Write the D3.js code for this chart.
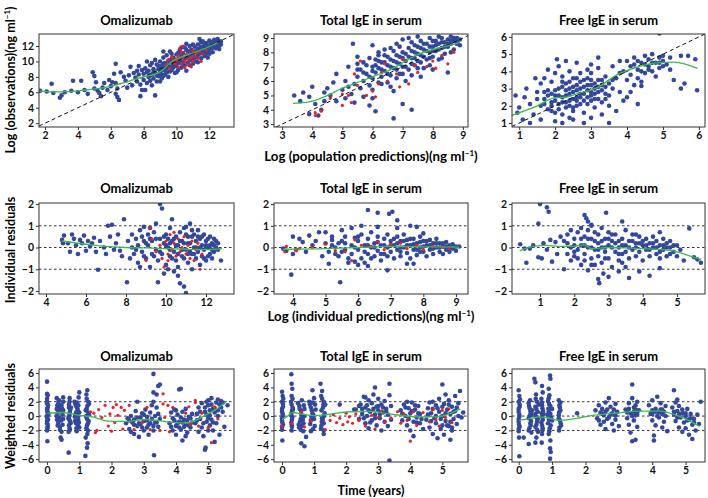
<!DOCTYPE html>
<meta charset="utf-8">
<body style="margin:0;background:#fff">
<script src="https://d3js.org/d3.v7.min.js"></script>
<script>
// ---- titles and ticks ----
const titles = ['Omalizumab', 'Total IgE in serum', 'Free IgE in serum'];
const omaPredTicks = [2, 4, 6, 8, 10, 12];
const totPredTicks = [3, 4, 5, 6, 7, 8, 9];
const freePredTicks = [1, 2, 3, 4, 5, 6];
const omaIpredTicks = [4, 6, 8, 10, 12];
const totIpredTicks = [4, 5, 6, 7, 8, 9];
const freeIpredTicks = [1, 2, 3, 4, 5];
const timeTicks = [0, 1, 2, 3, 4, 5];
const iresTicks = [-2, -1, 0, 1, 2];
const wresTicks = [-6, -4, -2, 0, 2, 4, 6];
const iresRefs = [-1, 0, 1];
const wresRefs = [-2, 0, 2];

// ---- row 1: observations vs population predictions ----
const omaPredBlue = [[1.7,6.2],[2.1,6.1],[2.4,7.1],[2.5,5.9],[2.9,5.3],[3.0,5.6],[3.2,6.0],[3.6,6.2],[3.7,7.5],[4.2,7.5],[4.0,6.0],[4.6,5.8],[4.9,8.6],[5.0,8.1],[5.0,6.5],[5.2,6.2],[5.4,5.5],[5.5,6.6],[5.6,7.2],[5.1,7.3],[5.8,6.3],[5.9,7.6],[6.0,6.8],[6.3,9.7],[6.2,8.4],[6.3,7.2],[6.4,6.5],[6.5,5.0],[6.4,5.4],[6.3,5.8],[6.6,8.6],[6.9,7.5],[7.0,6.6],[7.2,9.3],[7.5,7.9],[7.3,6.9],[7.8,5.5],[7.6,8.8],[7.9,6.3],[8.7,5.6],[6.1,7.3],[5.3,5.9],[4.4,6.3],[6.8,8.0],[7.1,8.2],
  [7.6,7.4],[7.7,8.3],[7.8,7.0],[7.9,8.9],[8.0,7.6],[8.0,8.4],[8.1,9.1],[8.2,7.2],[8.3,8.0],[8.3,8.8],[8.4,7.5],[8.4,9.5],[8.5,8.3],[8.5,6.9],[8.6,7.8],[8.6,9.0],[8.7,8.5],[8.7,10.2],[8.8,7.4],[8.8,9.6],
  [8.9,8.1],[8.9,9.0],[9.0,8.6],[9.0,10.0],[9.1,7.8],[9.1,9.4],[9.2,8.9],[9.2,10.5],[9.3,8.3],[9.3,9.8],[9.4,9.1],[9.4,10.8],[9.5,8.0],[9.5,9.5],[9.6,10.2],[9.6,8.7],[9.7,9.9],[9.7,11.0],[9.8,9.2],[9.8,10.5],[9.9,8.5],[9.9,9.8],
  [10.0,10.9],[10.0,9.4],[10.1,10.3],[10.1,8.9],[10.2,11.5],[10.2,9.8],[10.3,10.6],[10.3,9.2],[10.4,11.1],[10.4,10.0],[10.5,11.8],[10.5,9.5],[10.6,10.5],[10.6,8.8],[10.7,11.3],[10.7,9.9],[10.8,10.8],[10.8,12.0],[10.9,10.2],[10.9,11.5],[11.0,9.7],[11.0,11.0],
  [11.1,10.5],[11.1,11.9],[11.2,11.3],[11.2,10.0],[11.3,12.2],[11.3,10.8],[11.4,11.6],[11.5,10.4],[11.5,12.5],[11.6,11.1],[11.7,11.9],[11.7,10.7],[11.8,12.4],[11.8,11.4],[11.9,12.0],[12.0,11.0],[12.0,12.7],[12.1,11.7],[12.2,12.3],[12.2,11.2],[12.3,12.8],[12.3,11.8],[12.4,12.4],[12.5,12.0],[12.5,12.9],[12.6,11.6],[12.6,12.5],[12.7,12.2],[11.9,10.5],[11.4,12.9],[10.6,12.3],
  [8.2,10.0],[7.4,8.5],[7.7,9.4],[9.2,11.3],[9.0,7.4],[8.1,6.3],
  [8.2,8.6],[8.4,8.2],[8.6,8.6],[8.8,8.2],[8.9,9.4],[9.0,9.2],[9.1,8.3],[9.2,9.7],[9.3,9.2],[9.4,8.6],[9.5,10.1],[9.6,9.3],[9.7,8.9],[9.8,9.6],[9.9,10.2],[10.0,9.9],[10.1,11.1],[10.2,10.1],[10.3,10.9],[10.4,9.6],[10.5,10.4],[10.6,11.5],[10.7,10.6],[10.8,9.5],[10.9,11.1],[11.0,10.4],[11.1,11.3],[11.2,10.6],[11.3,11.6],[11.4,11.0],[11.5,11.9],[11.6,11.5],[11.7,12.3],[11.8,11.0],[11.9,11.7],[12.0,12.1],[12.1,12.5],[12.2,11.8],[12.3,12.3],[12.4,11.7],[12.5,12.5],[12.6,12.0],[12.7,12.6],[11.0,12.2],[10.3,11.8],[9.6,11.3],[8.5,9.8],[9.2,8.1],[10.0,8.6],[11.3,9.9],[12.0,11.5],[11.6,12.6]];
const omaPredRed = [[9.4,9.6],[9.6,9.1],[9.8,10.3],[9.9,9.7],[10.0,10.1],[10.1,9.3],[10.1,10.8],[10.2,10.4],[10.3,9.7],[10.3,11.2],[10.4,10.5],[10.5,10.0],[10.5,9.2],[10.6,10.9],[10.7,10.3],[10.7,9.6],[10.8,11.0],[10.9,10.5],[11.0,10.0],[11.0,11.4],[11.1,10.7],[11.2,11.1],[11.3,10.4],[11.4,11.3],[11.6,10.9],[11.8,11.5],[9.7,10.6],[10.2,11.7],[10.4,12.0],[9.5,10.2],[11.5,10.0],[10.9,9.3]];
const omaPredSmooth = [[1.63,6.15],[2.5,6.05],[3.5,6.1],[4.5,6.3],[5.3,6.5],[6.4,7.0],[7.8,7.9],[9.0,8.65],[9.8,10.1],[10.6,10.8],[11.4,11.4],[12.5,12.4]];

const totPredBlue = [[3.4,5.0],[3.7,5.2],[3.9,4.9],[3.9,3.7],[4.1,4.4],[4.2,3.6],[4.3,4.0],[4.4,4.6],[4.5,5.5],[4.6,5.0],[4.7,5.9],[4.8,4.6],[5.0,5.4],[5.1,4.8],[5.35,8.6],[5.2,7.0],[5.5,7.7],[5.7,4.9],[6.0,4.8],[6.1,3.9],[6.0,8.5],[6.2,8.0],[6.7,5.3],[6.7,3.4],[7.0,4.4],[7.3,4.0],[8.5,6.6],[4.4,5.2],[3.6,4.6],[4.0,5.6],[4.8,6.5],[5.1,6.0],[5.4,4.5],[5.9,4.3],[5.3,5.1],
  [5.4,5.8],[5.5,6.3],[5.6,6.8],[5.6,5.5],[5.7,6.0],[5.8,7.1],[5.8,6.5],[5.9,5.7],[6.0,6.2],[6.0,7.0],[6.1,6.6],[6.1,7.5],[6.2,5.9],[6.2,6.9],[6.3,7.3],[6.3,6.3],[6.4,7.8],[6.4,6.7],[6.5,7.1],[6.5,5.9],[6.6,7.5],[6.6,6.4],[6.7,8.1],[6.7,6.9],[6.8,7.3],[6.8,6.2],[6.9,7.7],[6.9,8.4],[7.0,7.0],[7.0,6.5],[7.1,7.9],[7.1,7.4],[7.2,8.3],[7.2,6.8],[7.3,7.6],[7.3,8.7],[7.4,7.1],[7.4,8.0],[7.5,8.4],[7.5,7.4],[7.6,7.8],[7.6,8.8],[7.7,6.9],[7.7,8.2],[7.8,8.6],[7.8,7.5],[7.9,8.0],[7.9,9.0],[8.0,8.4],[8.0,7.7],[8.1,8.8],[8.1,8.1],[8.2,7.5],[8.2,8.6],[8.3,9.0],[8.3,8.3],[8.4,8.7],[8.4,7.9],[8.5,8.9],[8.5,8.4],[8.6,9.1],[8.6,8.6],[8.7,8.8],[8.7,8.2],[8.8,9.0],[8.8,8.6],[8.9,8.9],[8.9,8.5],[8.2,9.1],[7.5,9.1],[7.0,8.9],[6.8,8.6],[6.4,8.2],[5.9,7.6],[5.5,7.2],[7.9,7.1],[7.3,6.4],[6.0,5.4],[5.2,5.6],[7.6,6.3],[8.0,6.8],[6.6,5.6],[7.1,6.0],
  [5.5,6.8],[5.7,6.6],[5.9,6.3],[6.0,6.7],[6.1,7.1],[6.2,7.4],[6.3,6.8],[6.4,7.3],[6.5,6.5],[6.5,7.7],[6.6,7.0],[6.7,7.4],[6.8,7.8],[6.8,6.8],[6.9,7.2],[7.0,8.0],[7.0,7.6],[7.1,7.0],[7.2,7.7],[7.3,7.2],[7.3,8.1],[7.4,8.5],[7.4,7.6],[7.5,7.9],[7.6,8.3],[7.6,7.3],[7.7,8.6],[7.7,7.7],[7.8,8.1],[7.9,8.4],[7.9,7.6],[8.0,8.8],[8.0,8.1],[8.1,8.5],[8.2,8.2],[8.3,8.7],[8.4,8.4],[8.5,8.6],[8.6,8.8],[8.7,9.0],[8.8,8.8],[7.2,9.0],[6.6,8.3],[6.2,7.8],[5.7,7.3],[6.9,6.5],[7.5,6.9],[8.3,7.6],[8.6,8.0],[6.3,5.8]];
const totPredRed = [[4.1,3.6],[4.1,3.8],[4.3,3.9],[4.6,4.8],[5.0,4.3],[5.2,5.0],[5.5,5.7],[5.8,5.0],[6.0,5.3],[6.2,5.8],[6.5,6.0],[6.8,6.5],[7.0,7.5],[7.2,5.8],[7.5,6.6],[7.8,7.0],[8.0,7.4],[8.3,7.8],[8.5,7.2],[6.4,7.2],[5.4,6.5],[6.9,5.6],[5.6,7.4],[5.0,5.1],[6.3,6.6],[7.4,7.1],[8.7,8.0],[8.1,6.9],[6.1,4.9],[5.3,4.5]];
const totPredSmooth = [[3.36,4.45],[3.9,4.55],[4.4,4.9],[5.0,5.5],[5.5,5.9],[6.0,6.3],[6.5,6.7],[6.9,7.15],[7.45,7.8],[8.0,8.2],[8.4,8.4],[8.9,8.7]];

const freePredBlue = [[0.9,2.6],[0.95,1.6],[1.1,1.2],[1.2,3.0],[1.3,2.1],[1.4,1.5],[1.5,2.4],[1.6,3.3],[1.7,2.8],[1.8,4.1],[1.9,1.7],[2.0,1.1],[2.05,4.7],[2.3,4.6],[1.0,1.9],[1.3,1.0],[1.6,1.2],[2.2,1.0],[2.5,1.2],[2.8,1.0],[3.0,1.3],[3.5,1.0],[3.3,1.5],[2.6,4.5],[3.0,4.4],[3.2,4.8],[2.9,4.1],[3.6,4.3],[3.8,4.6],[3.9,2.3],[4.0,2.5],[4.1,2.8],[4.4,3.15],[4.9,6.2],[5.3,3.5],[5.5,3.0],[5.5,4.9],[5.7,4.9],[5.9,4.7],[5.95,2.9],[5.6,3.3],[4.3,2.1],[3.7,1.7],[1.15,2.5],[1.45,3.6],
  [1.6,2.0],[1.7,2.4],[1.8,1.8],[1.8,2.9],[1.9,2.2],[1.9,3.4],[2.0,2.6],[2.0,1.6],[2.1,3.0],[2.1,2.1],[2.2,3.7],[2.2,2.5],[2.2,1.5],[2.3,2.9],[2.3,1.9],[2.3,3.3],[2.4,2.3],[2.4,4.0],[2.4,2.7],[2.5,3.1],[2.5,1.7],[2.5,3.6],[2.6,2.5],[2.6,2.9],[2.6,2.0],[2.7,3.4],[2.7,2.7],[2.7,3.9],[2.8,2.3],[2.8,3.1],[2.8,1.6],[2.9,2.9],[2.9,3.6],[2.9,2.1],[3.0,3.2],[3.0,2.6],[3.0,3.9],[3.1,2.4],[3.1,3.0],[3.1,1.9],[3.2,3.5],[3.2,2.8],[3.3,3.2],[3.3,2.2],[3.4,3.7],[3.4,2.7],[3.5,3.3],[3.5,2.0],[3.6,3.0],[3.7,3.6],[3.8,2.8],[1.7,3.6],[2.0,3.9],[2.4,1.3],[3.2,4.2],[2.1,4.3],[1.5,2.8],
  [3.9,4.0],[4.0,4.6],[4.1,3.8],[4.1,4.3],[4.2,4.8],[4.3,4.1],[4.3,3.6],[4.4,4.5],[4.5,4.9],[4.5,3.9],[4.6,4.3],[4.6,4.7],[4.7,4.0],[4.7,5.0],[4.8,4.5],[4.8,3.7],[4.9,4.8],[4.9,4.2],[5.0,4.6],[5.0,4.9],[5.1,4.4],[5.2,4.8],[4.4,3.4],[4.2,3.2],[4.0,3.5],[5.2,4.1],[3.8,3.9],
  [1.7,2.1],[1.8,2.6],[1.9,2.0],[2.0,2.3],[2.0,2.9],[2.1,2.6],[2.1,1.8],[2.2,2.2],[2.2,3.1],[2.3,2.6],[2.3,2.2],[2.4,2.0],[2.4,3.0],[2.4,3.4],[2.5,2.4],[2.5,2.8],[2.6,3.2],[2.6,2.3],[2.7,2.5],[2.7,3.0],[2.7,2.1],[2.8,2.7],[2.8,3.5],[2.9,2.5],[2.9,3.2],[3.0,2.8],[3.0,2.3],[3.1,3.3],[3.1,2.7],[3.2,3.1],[3.2,2.4],[3.3,2.9],[3.3,3.5],[3.4,3.1],[3.5,2.6],[3.6,3.5],[2.2,3.4],[2.6,3.6],[1.9,2.7],[2.5,1.9],[3.0,3.5],[3.4,2.4],[4.3,4.6],[4.5,4.4],[4.7,4.5],[4.9,4.5],[4.6,4.1],[4.4,4.0],[5.0,4.3],[4.2,4.4]];
const freePredSmooth = [[0.8,1.45],[1.5,2.0],[1.96,2.45],[2.3,2.5],[2.6,2.7],[3.17,3.05],[3.72,3.8],[4.19,4.18],[4.74,4.48],[5.3,4.54],[5.96,4.18]];

// ---- row 2: individual residuals vs individual predictions ----
const omaIresBlue = [[4.8,0.35],[4.9,0.55],[5.1,0.2],[5.3,0.6],[5.4,0.4],[5.5,0.1],[5.6,-0.3],[5.8,0.2],[5.9,0.55],[6.1,0.3],[6.2,0.05],[6.3,0.2],[6.5,-0.2],[6.6,-1.02],[6.7,0.3],[6.9,0.0],[7.1,1.0],[7.3,1.05],[7.2,0.5],[7.4,-0.1],[7.6,0.6],[7.8,-0.4],[7.9,1.3],[8.05,-1.6],[5.2,-0.2],[5.7,0.35],[6.0,-0.15],[6.4,0.45],[7.0,-0.3],[7.5,0.2],[7.7,-0.15],[4.85,0.2],
  [8.1,0.3],[8.2,-0.5],[8.3,0.6],[8.3,0.0],[8.4,-0.3],[8.5,0.4],[8.6,-0.7],[8.6,0.1],[8.7,0.8],[8.8,-0.2],[8.9,0.95],[8.9,0.3],[9.0,-0.5],[9.1,0.1],[9.1,0.6],[9.2,-0.9],[9.3,0.3],[9.3,-0.3],[9.4,0.7],[9.5,1.1],[9.5,-0.1],[9.6,-0.6],[9.6,-1.6],[9.7,0.4],[9.7,2.0],[9.8,1.8],[9.8,-0.3],[9.9,0.2],[10.0,-0.8],[10.0,0.6],[10.1,0.0],[10.2,-0.4],[10.2,0.9],[10.3,1.3],[10.3,0.3],[10.4,-1.1],[10.4,-0.2],[10.5,0.5],[10.5,-0.6],[10.6,-1.3],[10.6,0.1],[10.7,0.7],[10.7,-1.65],[10.8,-0.4],[10.8,0.3],[10.9,-1.8],[10.9,0.9],[11.0,-2.1],[11.0,-0.1],[11.0,0.95],[11.1,0.5],[11.1,-0.7],[11.2,1.1],[11.2,0.2],[11.3,-0.3],[11.3,-1.0],[11.4,0.6],[11.4,0.0],[11.5,-0.5],[11.5,0.3],[11.6,0.8],[11.6,-0.2],[11.7,-0.8],[11.7,0.4],[11.8,0.1],[11.8,-0.4],[11.9,0.6],[11.9,-0.1],[12.0,-0.6],[12.0,0.3],[12.1,0.0],[12.2,0.5],[12.2,-0.3],[12.3,0.2],[12.3,-0.5],[12.4,0.1],[12.4,-0.2],[12.5,0.3],[12.6,-0.1],[12.75,-0.6],[10.1,-1.0],[9.9,-1.2],[11.3,0.8],[10.6,-0.9],[8.7,-0.9],[9.2,0.9],
  [9.5,0.4],[9.7,-0.2],[9.9,0.5],[10.0,0.1],[10.1,0.4],[10.2,-0.1],[10.3,-0.5],[10.4,0.4],[10.5,0.1],[10.6,-0.3],[10.7,0.3],[10.8,-0.1],[10.9,0.2],[10.9,-0.5],[11.0,0.6],[11.1,0.2],[11.2,-0.2],[11.3,0.5],[11.4,-0.3],[11.5,0.0],[11.6,0.5],[11.7,0.0],[11.8,0.5],[11.9,-0.5],[12.0,0.1],[12.1,0.4],[12.1,-0.4],[12.2,0.1],[12.3,-0.1],[12.4,0.4],[12.5,0.0],[12.6,0.2],[9.2,0.4],[8.8,0.5],[9.0,0.2],[9.4,-0.4],[8.5,-0.1],[8.9,-0.4],[10.2,0.2],[11.1,-0.3]];
const omaIresRed = [[9.3,0.4],[9.5,-0.2],[9.7,0.1],[9.8,-0.5],[10.0,0.3],[10.1,-0.3],[10.2,0.6],[10.3,-0.1],[10.4,0.2],[10.5,-0.4],[10.6,0.4],[10.7,-0.2],[10.8,0.0],[10.9,0.5],[11.0,-0.3],[11.1,0.1],[11.2,-0.5],[11.3,0.3],[11.5,-0.1],[11.6,0.2],[11.8,-0.3],[9.0,-0.6],[10.1,-0.6],[10.4,0.7],[9.2,0.9],[11.4,-0.6],[9.9,-0.9],[11.7,-1.0]];
const omaIresSmooth = [[4.8,0.3],[6,0.15],[7,0.05],[8,0.0],[9,-0.02],[10,-0.05],[11,-0.08],[12,-0.1],[12.8,-0.05]];

const totIresBlue = [[3.7,-0.05],[3.8,-0.15],[4.0,0.5],[4.0,-0.3],[3.95,-1.25],[4.2,0.4],[4.3,0.25],[4.5,0.55],[4.4,-0.2],[4.8,0.7],[5.0,0.7],[5.2,0.5],[5.45,-1.6],[5.5,0.8],[5.1,-0.75],[5.8,0.9],[5.7,-0.7],[6.3,1.73],[6.6,1.6],[6.95,1.55],[7.05,1.65],[7.2,1.25],[6.1,1.0],[6.3,-0.85],[6.9,-1.05],[7.8,0.95],[7.7,-0.75],[4.6,0.1],[4.9,-0.4],[4.7,0.3],[5.3,-0.3],[4.1,-0.1],[6.6,0.95],[6.0,-0.8],[7.6,1.0],
  [5.0,0.2],[5.1,-0.2],[5.2,0.35],[5.3,0.0],[5.4,-0.4],[5.5,0.3],[5.6,-0.1],[5.6,0.5],[5.7,-0.5],[5.8,0.1],[5.8,-0.3],[5.9,0.45],[6.0,-0.1],[6.0,0.3],[6.1,0.6],[6.1,-0.5],[6.2,0.1],[6.3,-0.3],[6.3,0.4],[6.4,0.0],[6.4,0.7],[6.5,-0.4],[6.5,0.2],[6.6,-0.15],[6.6,0.5],[6.7,-0.6],[6.7,0.1],[6.8,0.4],[6.8,-0.3],[6.9,0.0],[6.9,0.6],[7.0,-0.2],[7.0,0.3],[7.1,-0.5],[7.1,0.1],[7.2,0.5],[7.2,-0.1],[7.3,0.3],[7.3,-0.4],[7.4,0.0],[7.4,0.6],[7.5,-0.25],[7.5,0.35],[7.6,0.1],[7.6,-0.5],[7.7,0.4],[7.7,-0.1],[7.8,0.2],[7.8,-0.35],[7.9,0.5],[7.9,0.0],[8.0,-0.2],[8.0,0.3],[8.1,0.1],[8.1,-0.4],[8.2,0.35],[8.2,-0.1],[8.3,0.2],[8.3,-0.3],[8.4,0.0],[8.4,0.4],[8.5,-0.2],[8.5,0.2],[8.6,0.05],[8.6,-0.3],[8.7,0.25],[8.7,-0.1],[8.8,0.1],[8.8,-0.2],[8.9,0.15],[8.9,-0.05],[9.0,0.05],[9.0,-0.15],[9.1,0.05],[5.9,-0.65],[7.2,0.9],[8.0,0.65],[7.5,-0.75],[6.2,-0.7],
  [5.2,0.1],[5.4,0.2],[5.6,0.2],[5.9,0.0],[6.0,0.5],[6.2,-0.2],[6.3,0.1],[6.5,0.0],[6.6,0.25],[6.7,-0.3],[6.8,0.1],[7.0,0.1],[7.1,0.4],[7.2,0.2],[7.3,0.0],[7.4,0.3],[7.5,0.1],[7.6,0.4],[7.7,0.15],[7.8,-0.1],[7.9,0.25],[8.0,0.05],[8.1,0.3],[8.2,0.1],[8.3,-0.05],[8.4,0.2],[8.5,0.0],[8.6,0.2],[8.7,0.05],[8.8,-0.05],[6.9,-0.4],[7.3,-0.2],[7.9,-0.2],[6.4,-0.5],[5.5,-0.2]];
const totIresRed = [[3.75,-0.2],[3.8,0.05],[4.1,-0.15],[4.2,-0.05],[4.6,0.0],[5.0,0.15],[5.3,-0.15],[5.6,-0.2],[5.8,-0.6],[5.9,0.35],[6.1,0.1],[6.4,0.05],[6.6,0.25],[6.8,-0.1],[7.0,0.15],[7.3,0.2],[7.5,-0.05],[7.8,0.1],[8.0,-0.1],[8.3,0.05],[8.6,0.0],[8.8,-0.05]];
const totIresSmooth = [[3.7,-0.08],[5,-0.05],[6,0.0],[7,0.05],[8,0.03],[9.1,0.02]];

const freeIresBlue = [[0.42,0.15],[0.55,-0.05],[0.6,-0.7],[0.7,-0.05],[0.8,0.1],[0.95,1.1],[1.0,2.0],[1.2,1.85],[1.25,1.65],[0.95,-0.45],[1.05,-0.5],[1.1,0.2],[1.3,0.35],[1.35,-0.65],[1.5,-0.3],[1.6,0.5],[1.7,-1.0],[2.3,1.5],[2.35,1.35],[2.4,1.2],[2.5,1.05],[2.93,1.6],[3.4,1.2],[2.73,-1.64],[2.7,-1.45],[2.85,-1.2],[3.0,-1.35],[3.6,-1.4],[3.3,-1.1],[4.2,-1.3],[2.4,-1.05],[5.36,0.88],[5.7,-0.7],[1.2,-0.1],[1.45,0.25],[5.5,-0.45],[5.2,-0.6],[5.6,-0.55],[3.9,-1.1],[4.5,-0.95],
  [1.7,0.3],[1.8,-0.3],[1.8,0.6],[1.9,0.0],[1.9,-0.6],[2.0,0.4],[2.0,-0.2],[2.1,0.7],[2.1,-0.5],[2.2,0.1],[2.2,-0.8],[2.3,0.5],[2.3,-0.3],[2.4,0.8],[2.4,0.0],[2.5,-0.5],[2.5,0.4],[2.6,-0.1],[2.6,0.7],[2.6,-0.8],[2.7,0.2],[2.7,-0.4],[2.8,0.9],[2.8,0.0],[2.8,-0.7],[2.9,0.4],[2.9,-0.2],[3.0,0.7],[3.0,-0.5],[3.0,0.1],[3.1,-0.9],[3.1,0.3],[3.2,-0.2],[3.2,0.6],[3.3,0.0],[3.3,-0.6],[3.4,0.4],[3.4,-0.3],[3.5,0.8],[3.5,0.1],[3.6,-0.5],[3.6,0.3],[3.7,-0.1],[3.7,0.6],[3.8,-0.4],[3.8,0.2],[3.9,0.5],[3.9,-0.2],[4.0,0.1],[4.0,-0.6],[4.1,0.4],[4.1,-0.1],[4.2,0.2],[4.2,-0.4],[4.3,0.5],[4.3,0.0],[4.4,-0.3],[4.4,0.3],[4.5,0.1],[4.5,-0.5],[4.6,0.4],[4.6,-0.1],[4.7,0.2],[4.7,-0.4],[4.8,0.0],[4.8,0.3],[4.9,-0.2],[5.0,0.1],[5.0,-0.4],[5.1,-0.1],[2.2,0.9],[3.5,-0.9],[2.5,1.0],[4.5,0.7],[1.9,0.8],
  [1.8,0.2],[2.0,0.1],[2.1,-0.1],[2.2,0.4],[2.3,0.1],[2.4,0.4],[2.5,0.0],[2.6,0.3],[2.7,0.6],[2.7,-0.1],[2.8,0.3],[2.9,0.0],[2.9,-0.5],[3.0,0.4],[3.1,0.0],[3.1,0.6],[3.2,0.2],[3.3,0.3],[3.3,-0.3],[3.4,0.1],[3.5,-0.2],[3.6,0.0],[3.7,0.3],[3.8,0.0],[3.9,0.2],[4.0,0.3],[4.1,0.1],[4.2,-0.1],[4.3,0.2],[4.4,0.0],[4.5,-0.2],[4.6,0.1],[4.7,0.0],[4.8,-0.3],[4.9,0.1],[2.3,-0.6],[2.5,-0.8],[3.4,-0.7],[2.0,-0.4],[3.8,0.6]];
const freeIresSmooth = [[0.4,-0.15],[0.8,0.05],[1.2,0.1],[1.6,0.05],[2.0,0.05],[2.3,0.12],[2.5,-0.05],[3.0,0.0],[3.5,-0.02],[4.0,-0.05],[4.6,-0.1],[5.0,-0.2],[5.3,-0.35],[5.7,-0.55]];

// ---- row 3: weighted residuals vs time ----
const omaWresBlue = [[0.0,4.8],[0.0,3.1],[0.02,2.9],[0.0,2.0],[0.03,1.5],[0.0,1.0],[0.02,0.5],[0.0,0.0],[0.03,-0.5],[0.0,-1.0],[0.02,-1.5],[0.0,-2.0],[0.01,-3.5],[0.04,0.3],[0.0,-0.2],
  [0.0,1.8],[0.02,1.2],[0.01,0.7],[0.03,0.2],[0.0,-0.7],[0.02,-1.2],[0.01,-1.7],[0.0,2.4],
  [0.3,2.5],[0.35,1.8],[0.4,1.2],[0.45,0.6],[0.3,0.0],[0.5,-0.4],[0.35,-0.9],[0.4,-1.5],[0.45,-2.2],[0.42,-3.0],[0.45,-3.3],[0.5,2.0],[0.3,1.0],[0.5,0.8],[0.38,-0.2],[0.48,-1.2],[0.33,0.4],[0.5,2.6],
  [0.32,1.5],[0.45,1.5],[0.36,0.7],[0.48,0.2],[0.31,-0.5],[0.44,-0.6],[0.4,-1.9],[0.33,-1.3],[0.47,1.0],[0.37,2.2],
  [0.7,2.5],[0.68,1.6],[0.72,0.9],[0.7,0.3],[0.66,-0.3],[0.73,-1.0],[0.7,-1.7],[0.67,-2.2],[0.67,-5.1],[0.74,1.2],[0.7,-0.6],
  [0.7,2.0],[0.68,1.2],[0.71,0.6],[0.69,0.0],[0.72,-0.8],[0.68,-1.3],[0.71,-1.9],
  [0.85,2.0],[0.9,1.4],[0.95,0.8],[1.0,3.3],[0.88,0.2],[0.97,-0.4],[0.9,-1.0],[1.0,-1.6],[0.92,-2.1],[0.98,2.6],[0.86,-0.1],[1.0,0.5],[0.93,1.9],[0.96,-1.3],
  [0.88,1.6],[0.94,1.1],[0.9,0.5],[0.95,0.0],[0.87,-0.7],[0.99,-0.9],[0.91,-1.7],[0.97,1.5],
  [1.25,3.6],[1.22,3.0],[1.28,2.0],[1.25,1.4],[1.2,0.8],[1.3,0.2],[1.24,-0.4],[1.27,-1.0],[1.22,-1.7],[1.25,-2.5],[1.2,-3.0],[1.26,-3.8],[1.24,-4.4],[1.19,-5.55],[1.3,1.7],[1.21,-0.1],
  [1.23,1.0],[1.27,0.5],[1.22,0.0],[1.29,-0.7],[1.24,-1.3],[1.27,-2.0],[1.23,2.4],
  [2.45,-1.0],[2.5,-0.3],[2.55,-1.8],[2.6,0.0],[2.65,-0.9],[2.7,-2.5],[2.7,-0.5],[2.75,0.7],[2.8,-1.4],[2.8,2.0],[2.85,-2.9],[2.9,-0.2],[2.9,-1.1],[2.95,0.4],[3.0,-2.0],[3.0,-0.7],[3.05,0.9],[3.1,-1.6],[3.1,-0.1],[3.15,-2.6],[3.2,0.5],[3.2,-1.0],[3.25,1.5],[3.3,5.88],[3.3,3.3],[3.32,-5.46],[3.3,-2.0],[3.35,0.0],[3.35,-0.9],[3.4,3.0],[3.4,1.2],[3.45,4.2],[3.5,4.4],[3.45,-1.5],[3.5,-0.4],[3.3,2.0],[2.6,-2.2],
  [2.55,-0.6],[2.7,-1.2],[2.8,-0.2],[2.85,-1.0],[2.95,-1.6],[3.0,0.2],[3.1,-0.6],[3.15,-1.2],[3.25,-0.4],[3.3,-1.4],[3.4,-0.9],[3.45,0.3],
  [3.8,-1.0],[3.85,0.5],[3.9,-2.0],[3.9,-0.3],[3.95,0.9],[4.0,-1.4],[4.0,-2.6],[4.05,0.2],[4.1,3.7],[4.15,3.8],[4.1,-0.8],[4.15,-1.9],[4.2,0.6],[4.2,-3.4],[4.25,-0.5],[4.3,-1.2],[4.3,1.0],[4.35,-2.3],[4.4,-0.1],[4.45,-1.6],[4.5,0.3],[4.5,-0.9],[4.0,0.8],[4.3,-2.8],
  [3.85,-1.5],[3.95,-0.6],[4.05,-1.0],[4.1,-1.6],[4.2,-0.9],[4.25,-1.5],[4.35,-0.6],[4.4,-1.3],[4.45,-0.3],[4.15,-0.2],
  [4.6,-1.0],[4.65,0.3],[4.7,-2.2],[4.7,1.2],[4.75,-0.4],[4.8,-1.6],[4.8,1.8],[4.85,-2.8],[4.9,-4.7],[4.92,-4.4],[4.9,0.6],[4.95,-0.8],[5.0,1.5],[5.0,2.2],[5.05,-1.3],[5.05,0.1],[5.1,2.5],[5.1,-0.5],[5.15,1.0],[5.15,-2.0],[5.2,-3.6],[5.2,0.5],[5.25,1.9],[5.25,-1.0],[5.3,2.3],[5.3,0.0],[5.35,-2.6],[5.4,2.1],[5.4,1.2],[5.45,0.6],[5.6,1.5],[5.5,-1.5],[4.95,2.0],
  [4.65,-0.6],[4.75,0.6],[4.85,-1.0],[4.9,1.2],[4.95,0.2],[5.0,-0.3],[5.05,0.8],[5.1,1.6],[5.15,-0.9],[5.2,1.1],[5.3,0.8],[5.35,1.6],[5.45,1.9],[5.0,-2.0]];
const omaWresRed = [[1.35,0.6],[1.45,0.4],[1.5,-2.3],[1.55,-2.0],[1.6,0.9],[1.7,-0.2],[1.8,1.5],[1.9,-1.4],[1.95,0.3],[2.0,-2.1],[2.05,1.2],[2.1,-0.9],[2.15,1.6],[2.2,0.1],[2.3,1.2],[2.35,-1.8],[2.4,0.8],[2.55,1.5],[2.7,-1.9],[2.95,-0.9],[3.1,1.2],[3.2,-1.9],[3.6,3.1],[3.6,1.7],[3.65,-0.2],[3.75,1.5],[3.8,-2.2],[3.9,1.2],[4.3,0.4],[4.4,1.3],[4.45,-1.2],[4.6,1.9],[4.7,-1.4],[4.8,0.4],[5.0,-1.6],[5.1,-3.7],[5.2,1.3],[5.3,-0.4],[4.6,2.2],[3.5,-2.0]];
const omaWresSmooth = [[0,0.4],[0.5,0.5],[1.0,0.1],[1.44,-0.15],[1.86,-0.7],[2.37,-0.75],[3.09,-0.5],[3.81,-0.83],[4.33,-0.97],[4.95,0.2],[5.26,1.0],[5.57,2.08]];

const totWresBlue = [[0.0,3.4],[0.02,2.8],[0.0,2.0],[0.03,1.3],[0.0,0.6],[0.02,0.0],[0.0,-0.6],[0.03,-1.2],[0.0,-1.9],[0.01,-3.4],[0.04,2.4],[0.0,-0.3],
  [0.0,1.0],[0.02,0.3],[0.01,-0.9],[0.03,1.7],[0.0,-1.5],
  [0.29,5.83],[0.3,4.5],[0.32,3.8],[0.3,2.8],[0.28,2.0],[0.33,1.2],[0.3,0.5],[0.32,-0.2],[0.29,-0.9],[0.31,-1.5],[0.3,-2.0],[0.34,0.9],
  [0.3,1.6],[0.32,0.8],[0.29,0.1],[0.31,-0.5],[0.3,-1.2],[0.33,2.4],
  [0.5,1.8],[0.55,1.0],[0.6,0.3],[0.65,-0.5],[0.52,-1.2],[0.58,-1.9],[0.6,-3.8],[0.7,-4.2],[0.68,1.5],[0.62,2.2],[0.7,0.0],[0.56,-0.8],[0.66,-2.1],[0.75,-2.9],
  [0.54,1.4],[0.6,0.7],[0.64,0.0],[0.58,-0.4],[0.67,-1.0],[0.53,-1.6],[0.7,1.0],[0.62,-1.4],
  [0.85,2.0],[0.9,1.2],[0.95,0.4],[1.0,-0.4],[0.88,-1.1],[0.97,-1.8],[0.95,3.6],[1.0,2.5],[1.03,1.6],[0.92,-0.1],[1.05,0.9],[0.9,-2.1],
  [0.87,1.6],[0.93,0.8],[0.98,0.1],[0.9,-0.6],[1.02,-1.4],[0.95,1.9],
  [1.2,4.5],[1.25,3.5],[1.22,2.8],[1.3,2.0],[1.28,1.2],[1.33,0.4],[1.25,-0.3],[1.3,-1.0],[1.22,-1.7],[1.3,-2.5],[1.35,1.6],[1.24,-0.8],[1.8,1.6],[2.25,0.9],
  [1.25,2.4],[1.29,1.6],[1.23,0.8],[1.31,0.0],[1.27,-0.5],[1.23,-1.3],[1.3,-2.0],
  [2.3,0.9],[2.4,-0.4],[2.45,1.6],[2.5,0.3],[2.55,2.7],[2.6,-1.0],[2.6,1.2],[2.65,0.0],[2.7,2.2],[2.7,-1.7],[2.75,0.6],[2.8,1.8],[2.8,-0.6],[2.85,3.0],[2.9,3.98],[2.9,0.2],[2.95,1.3],[2.95,-1.3],[3.0,0.8],[3.0,2.4],[3.05,-0.3],[3.1,1.6],[3.1,-2.0],[3.15,0.5],[3.2,2.1],[3.2,-0.8],[3.25,1.0],[3.3,-1.4],[3.3,0.2],[3.35,4.5],[3.35,-6.2],[3.4,1.4],[3.4,-0.5],[2.6,2.6],[3.35,2.9],
  [2.5,1.0],[2.55,-0.3],[2.65,1.5],[2.75,-0.9],[2.85,1.0],[2.9,-0.3],[3.0,1.4],[3.05,0.3],[3.15,1.2],[3.25,0.6],[2.7,0.8],[2.4,1.4],
  [3.7,0.8],[3.75,-0.6],[3.8,1.6],[3.85,0.0],[3.9,-1.3],[3.95,1.1],[4.0,-2.0],[4.0,0.4],[4.05,1.9],[4.1,-0.8],[4.1,-2.8],[4.15,0.9],[4.2,-0.2],[4.25,1.4],[4.3,-1.0],[4.3,0.3],[4.4,-1.8],[3.9,2.0],
  [3.75,0.3],[3.85,1.2],[3.95,-0.4],[4.05,0.7],[4.15,1.5],[4.2,-0.9],[4.25,0.4],[4.35,-0.4],
  [4.5,-0.5],[4.55,1.1],[4.6,-1.6],[4.65,0.4],[4.7,2.0],[4.7,-2.5],[4.75,-0.3],[4.8,1.5],[4.8,-1.0],[4.85,-3.1],[4.9,0.6],[4.9,2.4],[4.95,-1.8],[5.0,4.4],[5.0,0.0],[5.05,1.7],[5.05,-2.6],[5.1,-0.7],[5.1,3.0],[5.15,0.9],[5.2,-1.4],[5.2,2.2],[5.25,-3.3],[5.25,0.3],[5.3,1.3],[5.3,-2.0],[5.35,-0.4],[5.4,2.8],[5.4,0.7],[5.45,-1.1],[5.5,1.8],[5.55,3.5],[5.6,-0.2],[5.65,0.5],[4.6,1.9],[5.0,-1.3],
  [4.55,0.2],[4.65,-0.7],[4.7,1.0],[4.8,0.0],[4.85,1.1],[4.95,-0.4],[5.0,1.3],[5.1,0.4],[5.15,-1.3],[5.2,1.6],[5.25,-0.8],[5.35,0.6],[5.45,1.2],[5.5,0.0],[5.3,-1.6]];
const totWresRed = [[0.0,-1.4],[0.3,-1.0],[0.6,0.6],[0.7,-1.5],[0.9,-0.7],[1.35,-1.9],[1.5,-0.6],[1.6,0.2],[1.7,-0.9],[1.8,-0.3],[1.9,-1.2],[2.0,0.4],[2.05,-0.8],[2.1,-0.1],[2.2,-1.0],[2.3,0.3],[2.4,-0.6],[2.6,-1.4],[2.8,0.1],[2.9,-1.8],[3.0,-0.2],[3.1,0.7],[3.2,-0.9],[3.4,-0.3],[3.6,0.6],[3.7,-1.0],[3.8,0.3],[3.9,-0.6],[4.0,-3.5],[4.1,0.6],[4.2,-1.3],[4.4,0.5],[4.6,-0.8],[4.7,0.9],[4.8,-0.5],[4.9,-1.4],[5.0,0.8],[5.1,-0.2],[5.2,1.0],[5.3,-0.9]];
const totWresSmooth = [[0,-0.5],[0.15,-0.1],[0.34,0.5],[0.6,0.3],[0.97,0.05],[1.49,0.28],[2.12,0.6],[2.75,0.65],[3.37,0.3],[4.2,-0.1],[4.83,-0.1],[5.56,1.0]];

const freeWresBlue = [[0.0,3.6],[0.02,2.8],[0.0,2.0],[0.03,1.3],[0.0,0.6],[0.02,-0.1],[0.0,-0.8],[0.03,-1.5],[0.0,-2.1],[0.01,-3.0],[0.02,-5.6],[0.04,2.3],[0.0,-0.4],[0.15,-3.0],
  [0.0,1.0],[0.02,0.2],[0.01,-1.2],[0.03,1.6],[0.0,-1.8],
  [0.3,1.8],[0.33,1.1],[0.36,0.4],[0.3,-0.3],[0.35,-1.0],[0.32,-1.7],[0.38,-2.3],[0.3,-3.9],[0.4,0.8],[0.34,2.2],[0.37,-0.7],
  [0.31,1.4],[0.35,0.7],[0.33,0.0],[0.36,-1.3],[0.3,-2.0],[0.38,0.2],
  [0.47,5.2],[0.5,4.7],[0.52,3.0],[0.55,2.0],[0.5,1.3],[0.57,0.6],[0.52,-0.1],[0.55,-0.8],[0.5,-1.5],[0.58,-2.2],[0.53,-3.0],[0.5,-3.7],[0.6,1.6],[0.56,-0.4],
  [0.53,1.0],[0.5,0.3],[0.57,-0.4],[0.53,-1.2],[0.55,-1.9],[0.51,2.4],
  [0.7,4.2],[0.72,3.3],[0.68,2.4],[0.7,1.5],[0.73,0.7],[0.7,-0.1],[0.68,-0.9],[0.72,-1.7],[0.7,-2.5],[0.69,-3.7],[0.74,0.3],
  [0.71,1.1],[0.69,0.4],[0.72,-0.5],[0.7,-1.3],[0.71,-2.0],[0.7,1.9],
  [0.94,5.65],[0.95,5.2],[0.9,3.8],[0.92,2.9],[0.88,2.1],[0.95,1.4],[0.9,0.6],[0.97,-0.2],[0.88,-1.0],[0.93,-1.7],[0.9,-2.5],[0.95,-3.4],[0.94,-4.5],[0.96,-5.0],[0.94,-5.93],[1.0,1.0],[1.0,-0.6],[0.86,0.2],
  [0.91,1.7],[0.89,1.0],[0.95,0.3],[0.91,-0.5],[0.96,-1.3],[0.92,-2.1],[0.9,2.5],
  [1.2,2.2],[1.22,1.5],[1.25,0.8],[1.2,0.1],[1.23,-0.6],[1.27,-1.3],[1.21,-2.0],[1.25,1.9],[1.2,-0.3],[1.75,0.4],
  [1.23,1.2],[1.21,0.5],[1.26,-1.0],[1.22,-1.6],
  [2.3,0.8],[2.35,-0.3],[2.4,1.5],[2.45,-1.2],[2.5,0.3],[2.55,-0.8],[2.6,1.9],[2.6,-1.8],[2.65,0.9],[2.7,-0.2],[2.7,2.5],[2.75,1.3],[2.8,-1.1],[2.8,0.4],[2.85,-2.0],[2.9,1.7],[2.9,-0.5],[2.95,0.6],[3.0,-1.4],[2.5,1.0],[2.4,-0.6],
  [2.45,0.5],[2.55,0.1],[2.6,0.6],[2.65,-0.4],[2.75,0.2],[2.85,0.9],[2.9,0.1],
  [3.2,0.9],[3.25,-0.3],[3.3,1.8],[3.3,-1.2],[3.35,0.4],[3.4,4.4],[3.4,2.5],[3.4,-3.5],[3.45,-0.6],[3.45,1.2],[3.5,-3.3],[3.5,0.1],[3.55,2.0],[3.55,-1.5],[3.6,0.8],[3.35,-2.3],[3.5,1.5],
  [3.25,0.5],[3.3,1.0],[3.4,0.0],[3.45,0.6],[3.5,0.9],[3.55,0.3],
  [3.9,1.5],[3.95,0.3],[4.0,-0.6],[4.0,2.2],[4.05,-2.7],[4.05,-3.4],[4.1,1.0],[4.1,-1.3],[4.15,2.7],[4.2,0.5],[4.2,-0.2],[4.25,1.8],[4.3,-1.6],[4.3,0.9],[4.35,-0.8],[4.4,1.4],[4.4,0.0],[4.45,-2.1],[4.0,0.8],
  [4.0,0.3],[4.1,0.6],[4.15,0.0],[4.25,0.9],[4.3,0.3],[4.35,0.6],
  [4.6,1.2],[4.65,0.2],[4.65,3.6],[4.7,-0.7],[4.7,1.9],[4.75,0.7],[4.8,-1.6],[4.8,1.4],[4.85,-0.2],[4.9,0.9],[4.9,-2.2],[4.95,-0.9],[5.0,0.4],[5.0,-1.7],[5.05,1.0],[5.1,-0.5],[5.1,-2.6],[5.15,0.3],[5.2,-1.2],[5.2,-3.2],[5.25,-0.4],[5.3,-2.0],[5.35,0.2],[5.45,2.0],[5.4,-1.1],[4.75,2.3],
  [4.65,0.6],[4.75,-0.2],[4.8,0.3],[4.9,0.4],[5.0,0.0],[5.05,-0.6],[5.15,-0.3],[5.25,-0.9]];
const freeWresSmooth = [[0.02,-0.6],[0.4,-0.3],[0.6,-0.1],[0.82,-0.2],[1.22,-0.6],[1.62,-0.4],[2.22,0.1],[2.92,0.42],[3.62,0.7],[4.22,0.7],[4.82,-0.05],[5.42,-1.43]];

// ---- layout ----
const width = 708, height = 498;
const cols = [[39, 234], [274, 468], [512, 705]];
const rows = [[34, 127], [203, 294], [369, 462]];
const blue = '#34489b', red = '#e3222b', green = '#3fb94a';

const panels = [
  {r: 0, c: 0, xd: [1.63, 13.5], yd: [1.5, 13.56], xt: omaPredTicks, yt: omaPredTicks, blue: omaPredBlue, red: omaPredRed, smooth: omaPredSmooth, identity: true},
  {r: 0, c: 1, xd: [2.73, 9.17], yd: [2.8, 9.28], xt: totPredTicks, yt: totPredTicks, blue: totPredBlue, red: totPredRed, smooth: totPredSmooth, identity: true},
  {r: 0, c: 2, xd: [0.8, 6.17], yd: [0.77, 6.17], xt: freePredTicks, yt: freePredTicks, blue: freePredBlue, red: [], smooth: freePredSmooth, identity: true},
  {r: 1, c: 0, xd: [3.65, 13.4], yd: [-2.14, 2.05], xt: omaIpredTicks, yt: iresTicks, blue: omaIresBlue, red: omaIresRed, smooth: omaIresSmooth, refs: iresRefs},
  {r: 1, c: 1, xd: [3.42, 9.37], yd: [-2.14, 2.05], xt: totIpredTicks, yt: iresTicks, blue: totIresBlue, red: totIresRed, smooth: totIresSmooth, refs: iresRefs},
  {r: 1, c: 2, xd: [0.18, 5.82], yd: [-2.14, 2.05], xt: freeIpredTicks, yt: iresTicks, blue: freeIresBlue, red: [], smooth: freeIresSmooth, refs: iresRefs},
  {r: 2, c: 0, xd: [-0.25, 5.8], yd: [-6.4, 6.56], xt: timeTicks, yt: wresTicks, blue: omaWresBlue, red: omaWresRed, smooth: omaWresSmooth, refs: wresRefs},
  {r: 2, c: 1, xd: [-0.25, 5.8], yd: [-6.4, 6.56], xt: timeTicks, yt: wresTicks, blue: totWresBlue, red: totWresRed, smooth: totWresSmooth, refs: wresRefs},
  {r: 2, c: 2, xd: [-0.2, 5.58], yd: [-6.4, 6.56], xt: timeTicks, yt: wresTicks, blue: freeWresBlue, red: [], smooth: freeWresSmooth, refs: wresRefs}
];

const svg = d3.select('body').append('svg')
  .attr('width', width)
  .attr('height', height)
  .style('font-family', 'Lato, "Open Sans", sans-serif')
  .style('font-weight', 'bold');

const titleY = [25, 193, 361];
const fmt = d3.format('d');

panels.forEach((p, i) => {
  const [x0, x1] = cols[p.c], [y0, y1] = rows[p.r];
  const x = d3.scaleLinear().domain(p.xd).range([x0, x1]);
  const y = d3.scaleLinear().domain(p.yd).range([y1, y0]);
  const g = svg.append('g');

  g.append('clipPath').attr('id', 'clip' + i)
    .append('rect')
      .attr('x', x0).attr('y', y0)
      .attr('width', x1 - x0).attr('height', y1 - y0);

  const plot = g.append('g').attr('clip-path', `url(#clip${i})`);

  // dashed reference lines
  (p.refs || []).forEach(v => {
    plot.append('line')
      .attr('x1', x0).attr('x2', x1)
      .attr('y1', y(v)).attr('y2', y(v))
      .attr('stroke', '#333')
      .attr('stroke-width', 1)
      .attr('stroke-dasharray', '2.5,2.5');
  });

  plot.selectAll('circle.blue')
    .data(p.blue)
    .join('circle')
      .attr('class', 'blue')
      .attr('cx', d => x(d[0]))
      .attr('cy', d => y(d[1]))
      .attr('r', 2.3)
      .attr('fill', blue);

  plot.selectAll('circle.red')
    .data(p.red)
    .join('circle')
      .attr('class', 'red')
      .attr('cx', d => x(d[0]))
      .attr('cy', d => y(d[1]))
      .attr('r', 1.6)
      .attr('fill', red);

  if (p.identity) {
    const lo = Math.max(p.xd[0], p.yd[0]), hi = Math.min(p.xd[1], p.yd[1]) + 1;
    plot.append('line')
      .attr('x1', x(lo)).attr('y1', y(lo))
      .attr('x2', x(hi)).attr('y2', y(hi))
      .attr('stroke', '#111')
      .attr('stroke-width', 1)
      .attr('stroke-dasharray', '4,3');
  }

  plot.append('path')
    .datum(p.smooth)
    .attr('fill', 'none')
    .attr('stroke', green)
    .attr('stroke-width', 1.3)
    .attr('d', d3.line().x(d => x(d[0])).y(d => y(d[1])).curve(d3.curveMonotoneX));

  // frame
  g.append('rect')
    .attr('x', x0).attr('y', y0)
    .attr('width', x1 - x0).attr('height', y1 - y0)
    .attr('fill', 'none')
    .attr('stroke', '#333')
    .attr('stroke-width', 1);

  const xa = g.append('g')
    .attr('transform', `translate(0,${y1})`)
    .call(d3.axisBottom(x).tickValues(p.xt).tickFormat(fmt).tickSize(3).tickSizeOuter(0));
  const ya = g.append('g')
    .attr('transform', `translate(${x0},0)`)
    .call(d3.axisLeft(y).tickValues(p.yt).tickFormat(fmt).tickSize(3).tickSizeOuter(0));
  [xa, ya].forEach(a => {
    a.select('.domain').remove();
    a.selectAll('line').attr('stroke', '#333');
    a.selectAll('text')
      .attr('fill', '#111')
      .style('font-size', '10.5px')
      .style('font-weight', 'bold')
      .style('font-family', 'Lato, "Open Sans", sans-serif');
  });
  ya.selectAll('text').attr('x', -5);
  xa.selectAll('text').attr('y', 5);

  g.append('text')
    .attr('x', (x0 + x1) / 2)
    .attr('y', titleY[p.r])
    .attr('text-anchor', 'middle')
    .style('font-size', '13px')
    .text(titles[p.c]);
});

// axis titles
function unitLabel(sel, main) {
  sel.append('tspan').text(main + '(ng ml');
  sel.append('tspan').attr('dy', -5).style('font-size', '8px').text('\u22121');
  sel.append('tspan').attr('dy', 5).text(')');
}

svg.append('text')
  .attr('transform', 'translate(15,80) rotate(-90)')
  .attr('text-anchor', 'middle')
  .style('font-size', '12.5px')
  .call(unitLabel, 'Log (observations)');

svg.append('text')
  .attr('x', 371).attr('y', 161)
  .attr('text-anchor', 'middle')
  .style('font-size', '13.3px')
  .call(unitLabel, 'Log (population predictions)');

svg.append('text')
  .attr('transform', 'translate(15,250) rotate(-90)')
  .attr('text-anchor', 'middle')
  .style('font-size', '12.5px')
  .text('Individual residuals');

svg.append('text')
  .attr('x', 371).attr('y', 321)
  .attr('text-anchor', 'middle')
  .style('font-size', '13.3px')
  .call(unitLabel, 'Log (individual predictions)');

svg.append('text')
  .attr('transform', 'translate(15,416) rotate(-90)')
  .attr('text-anchor', 'middle')
  .style('font-size', '12.5px')
  .text('Weighted residuals');

svg.append('text')
  .attr('x', 371).attr('y', 495)
  .attr('text-anchor', 'middle')
  .style('font-size', '12.5px')
  .text('Time (years)');
</script>
